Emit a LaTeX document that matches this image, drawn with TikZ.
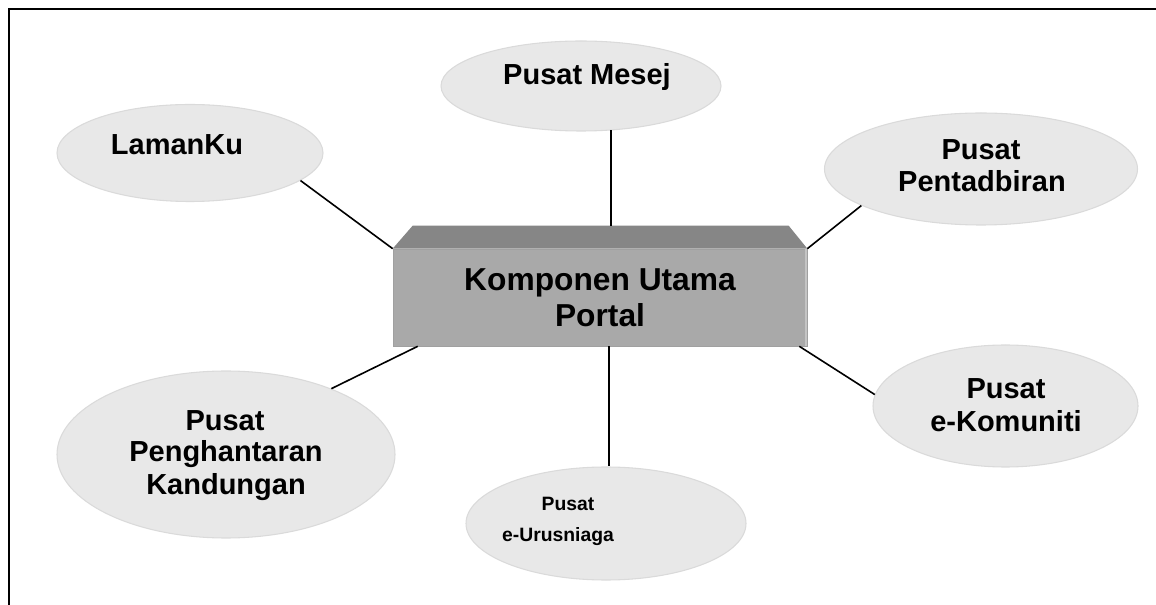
\documentclass[tikz,border=0pt]{standalone}
\usepackage{fontspec}
\setmainfont{Liberation Sans}
\usetikzlibrary{shapes.geometric}
\definecolor{bubfill}{RGB}{232,232,232}
\definecolor{bubline}{RGB}{218,218,218}
\definecolor{frontfill}{RGB}{169,169,169}
\definecolor{frontline}{RGB}{160,160,160}
\definecolor{edgelight}{RGB}{196,196,196}
\definecolor{topfill}{RGB}{134,134,134}
\begin{document}
\begin{tikzpicture}[x=0.75pt,y=-0.75pt,
  bubble/.style={ellipse, fill=bubfill, draw=bubline, line width=0.8pt, inner sep=0},
  lbl/.style={anchor=base, inner sep=0, font=\bfseries\fontsize{21.75}{26}\selectfont},
  smalllbl/.style={anchor=base, inner sep=0, font=\bfseries\fontsize{14.5}{17}\selectfont},
  conn/.style={draw=black, line width=1.2pt},
  framestyle/.style={draw=black, line width=1.5pt},
  frontbox/.style={rectangle, fill=frontfill, draw=frontline, line width=0.5pt, inner sep=0,
    minimum width=310.5pt, minimum height=72.75pt, align=center,
    font=\bfseries\fontsize{23.8}{27}\selectfont}]
\useasboundingbox (0,0) rectangle (1156,605);
\draw[framestyle] (9,605) -- (9,9) -- (1156,9);

% bubbles
\node[bubble, minimum width=199.5pt, minimum height=72.75pt] (lam) at (190,153) {};
\node[bubble, minimum width=210pt, minimum height=67.5pt] (mes) at (581,86) {};
\node[bubble, minimum width=234.75pt, minimum height=84pt] (pent) at (981,169) {};
\node[bubble, minimum width=253.5pt, minimum height=125.25pt] (peng) at (226,454.5) {};
\node[bubble, minimum width=198.75pt, minimum height=91.5pt] (kom) at (1005.5,406) {};
\node[bubble, minimum width=210pt, minimum height=84.75pt] (uru) at (606,523.5) {};

% central box
\node[frontbox] (box) at (600,297.5) {Komponen Utama\\Portal};
\fill[edgelight] ([xshift=-1.5pt]box.north east) rectangle (box.south east);
\fill[topfill] (box.north west) -- ++(20,-23) -- ++(376,0) -- (box.north east) -- cycle;
\coordinate (tt) at ([yshift=17.25pt]box.north);

% labels
\node[lbl] (tlam) at (177,155) {LamanKu};
\node[lbl] (tmes) at (587,85) {Pusat Mesej};
\node[lbl] (tpent1) at (981,160) {Pusat};
\node[lbl] (tpent2) at (982,192) {Pentadbiran};
\node[lbl] (tpeng1) at (225,431) {Pusat};
\node[lbl] (tpeng2) at (226,462) {Penghantaran};
\node[lbl] (tpeng3) at (226,494) {Kandungan};
\node[lbl] (tkom1) at (1006,399) {Pusat};
\node[lbl] (tkom2) at (1006,432) {e-Komuniti};
\node[smalllbl] (turu1) at (568,510) {Pusat};
\node[smalllbl] (turu2) at (558,541) {e-Urusniaga};

% connectors
\draw[conn] (lam.-14) -- (box.north west);
\draw[conn] (mes.-56.6) -- (mes.-56.6 |- tt);
\draw[conn] (pent.197) -- (box.north east);
\draw[conn] ([xshift=18.75pt]box.south west) -- (peng.32);
\draw[conn] ([xshift=-6pt]box.south east) -- (kom.175);
\draw[conn] (uru.87 |- box.south) -- (uru.87);
\end{tikzpicture}
\end{document}
